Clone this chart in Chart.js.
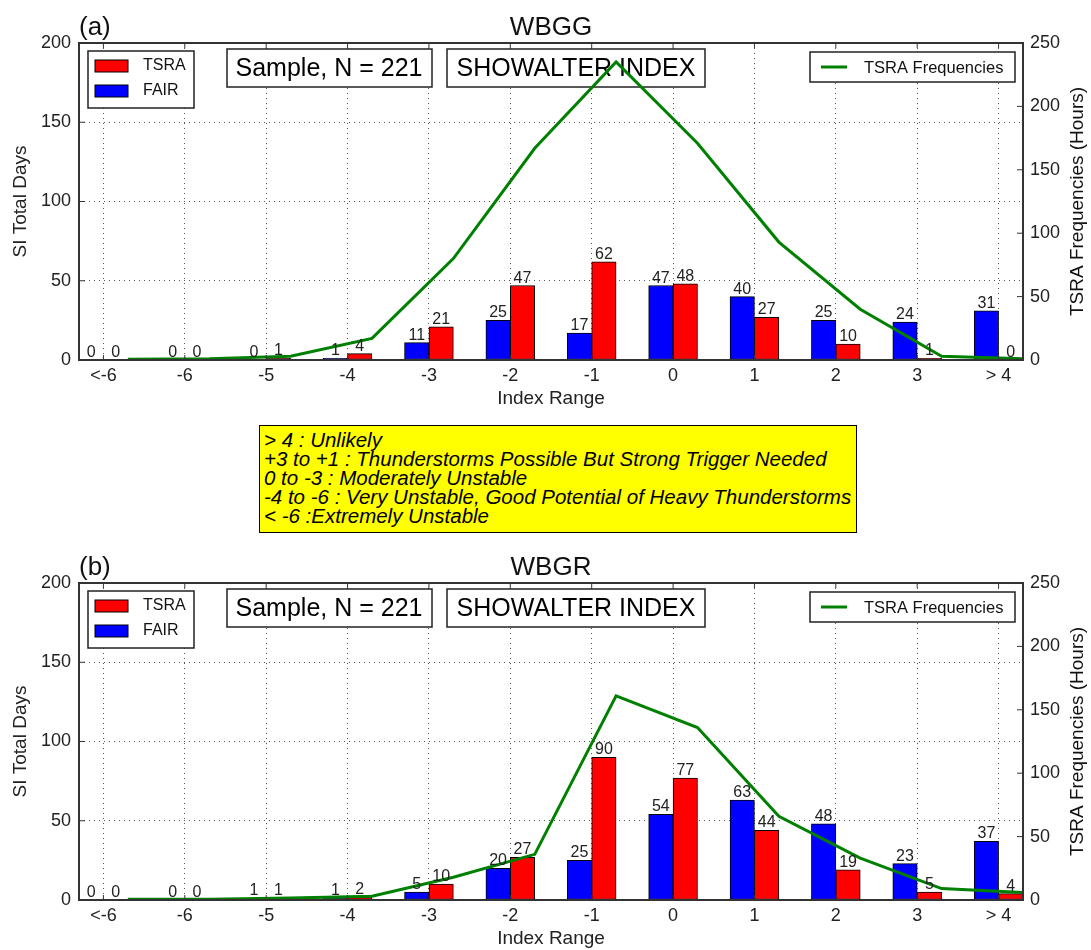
<!DOCTYPE html>
<html>
<head>
<meta charset="utf-8">
<script src="https://cdn.jsdelivr.net/npm/chart.js@4.4.1/dist/chart.umd.min.js"></script>
<style>
  html, body { margin: 0; padding: 0; background: #fff; overflow: hidden; }
  #page { position: relative; width: 1091px; height: 950px; }
  canvas { position: absolute; left: 0; }
  #panelA { top: 0; }
  #panelB { top: 540px; }
  #notes {
    position: absolute; left: 259px; top: 425px; width: 598px; height: 108px;
    box-sizing: border-box; border: 1px solid #000; background: #ffff00;
    padding: 4px 4px; font: italic 20.5px 'Liberation Sans', Arial, sans-serif;
    line-height: 19px; color: #000; white-space: nowrap;
  }
</style>
</head>
<body>
<div id="page">
  <canvas id="panelA" width="1091" height="410"></canvas>
  <div id="notes">
    &gt; 4 : Unlikely<br>
    +3 to +1 : Thunderstorms Possible But Strong Trigger Needed<br>
    0 to -3 : Moderately Unstable<br>
    -4 to -6 : Very Unstable, Good Potential of Heavy Thunderstorms<br>
    &lt; -6 :Extremely Unstable
  </div>
  <canvas id="panelB" width="1091" height="410"></canvas>
</div>
<script>
const categories = ['<-6', '-6', '-5', '-4', '-3', '-2', '-1', '0', '1', '2', '3', '> 4'];
const daysTicks = [0, 50, 100, 150, 200];
const hoursTicks = [0, 50, 100, 150, 200, 250];

// WBGG
const wbggFair = [0, 0, 0, 1, 11, 25, 17, 47, 40, 25, 24, 31];
const wbggTsra = [0, 0, 1, 4, 21, 47, 62, 48, 27, 10, 1, 0];
const wbggHours = [0.5, 1, 3, 17, 80, 167, 235, 171, 93, 40, 3, 1];

// WBGR
const wbgrFair = [0, 0, 1, 1, 5, 20, 25, 54, 63, 48, 23, 37];
const wbgrTsra = [0, 0, 1, 2, 10, 27, 90, 77, 44, 19, 5, 4];
const wbgrHours = [0.5, 0.5, 1.5, 3, 18, 36, 161, 136, 66, 33, 9, 6];

const sampleText = 'Sample, N = 221';
const indexText = 'SHOWALTER INDEX';

const FONT = "'Liberation Sans', Arial, sans-serif";
const BAR_W = 0.3; // bar width as a fraction of one index step

function drawBox(ctx, x, y, w, h) {
    ctx.save();
    ctx.fillStyle = '#fff';
    ctx.fillRect(x, y, w, h);
    ctx.strokeStyle = '#222';
    ctx.lineWidth = 1.5;
    ctx.strokeRect(x, y, w, h);
    ctx.restore();
}

// legends, text boxes, bar labels, frame and titles
const panelPlugin = {
    id: 'panel',
    beforeDatasetsDraw(chart) {
        const {ctx, chartArea: ca} = chart;
        const ds = chart.data.datasets;
        const bars = [ds[2], ds[1]]; // TSRA first, then FAIR
        const line = ds[0];

        // TSRA / FAIR legend
        drawBox(ctx, ca.left + 9, ca.top + 8, 106, 57);
        ctx.save();
        ctx.font = '16px ' + FONT;
        ctx.textBaseline = 'middle';
        bars.forEach((d, k) => {
            const y = ca.top + 23 + k * 25;
            ctx.fillStyle = d.backgroundColor;
            ctx.fillRect(ca.left + 16, y - 6, 33, 12);
            ctx.strokeStyle = '#000';
            ctx.lineWidth = 1;
            ctx.strokeRect(ca.left + 16, y - 6, 33, 12);
            ctx.fillStyle = '#111';
            ctx.fillText(d.label, ca.left + 64, y);
        });
        ctx.restore();

        // text boxes
        ctx.save();
        ctx.font = '25px ' + FONT;
        ctx.textAlign = 'center';
        ctx.textBaseline = 'middle';
        ctx.fillStyle = '#000';
        drawBox(ctx, ca.left + 148, ca.top + 6, 205, 38);
        ctx.fillText(sampleText, ca.left + 148 + 102, ca.top + 26);
        drawBox(ctx, ca.left + 368, ca.top + 6, 258, 38);
        ctx.fillText(indexText, ca.left + 368 + 129, ca.top + 26);
        ctx.restore();

        // line legend
        const lx = ca.right - 213;
        drawBox(ctx, lx, ca.top + 9, 205, 30);
        ctx.save();
        ctx.strokeStyle = line.borderColor;
        ctx.lineWidth = 3;
        ctx.beginPath();
        ctx.moveTo(lx + 11, ca.top + 24);
        ctx.lineTo(lx + 37, ca.top + 24);
        ctx.stroke();
        ctx.font = '16.5px ' + FONT;
        ctx.textBaseline = 'middle';
        ctx.fillStyle = '#111';
        ctx.fillText(line.label, lx + 54, ca.top + 25);
        ctx.restore();
    },
    afterDatasetsDraw(chart, args, opts) {
        const {ctx, chartArea: ca, scales} = chart;

        // values above the bars
        ctx.save();
        ctx.font = '16px ' + FONT;
        ctx.textAlign = 'center';
        ctx.textBaseline = 'alphabetic';
        ctx.fillStyle = '#222';
        chart.data.datasets.forEach((d, di) => {
            if (d.type === 'line') return;
            chart.getDatasetMeta(di).data.forEach((el, i) => {
                ctx.fillText(String(d.data[i].y), el.x, el.y - 3);
            });
        });
        ctx.restore();

        // frame with inward ticks
        ctx.save();
        ctx.strokeStyle = '#333';
        ctx.lineWidth = 2;
        ctx.strokeRect(ca.left, ca.top, ca.right - ca.left, ca.bottom - ca.top);
        ctx.lineWidth = 1;
        ctx.beginPath();
        categories.forEach((c, i) => {
            const x = scales.x.getPixelForValue(i);
            ctx.moveTo(x, ca.top); ctx.lineTo(x, ca.top + 5);
            ctx.moveTo(x, ca.bottom); ctx.lineTo(x, ca.bottom - 5);
        });
        daysTicks.forEach(v => {
            const y = scales.y.getPixelForValue(v);
            ctx.moveTo(ca.left, y); ctx.lineTo(ca.left + 6, y);
        });
        hoursTicks.forEach(v => {
            const y = scales.y2.getPixelForValue(v);
            ctx.moveTo(ca.right, y); ctx.lineTo(ca.right - 6, y);
        });
        ctx.stroke();
        ctx.restore();

        // panel tag, title and right axis title
        ctx.save();
        ctx.fillStyle = '#111';
        ctx.font = '26px ' + FONT;
        ctx.textBaseline = 'alphabetic';
        ctx.textAlign = 'left';
        ctx.fillText(opts.tag, ca.left, 35);
        ctx.textAlign = 'center';
        ctx.fillText(opts.title, (ca.left + ca.right) / 2, 35);
        ctx.translate(1078, (ca.top + ca.bottom) / 2);
        ctx.rotate(-Math.PI / 2);
        ctx.font = '19px ' + FONT;
        ctx.textBaseline = 'middle';
        ctx.fillText('TSRA Frequencies (Hours)', 0, 0);
        ctx.restore();
    }
};

function makePanel(canvasId, tag, title, fair, tsra, hours) {
    const tickFont = {family: FONT, size: 18};
    new Chart(document.getElementById(canvasId), {
        type: 'bar',
        data: {
            datasets: [
                {
                    type: 'line',
                    label: 'TSRA Frequencies',
                    data: hours.map((v, i) => ({x: i + BAR_W, y: v})),
                    yAxisID: 'y2',
                    borderColor: '#008000',
                    borderWidth: 3,
                    pointRadius: 0,
                    tension: 0,
                    order: 0
                },
                {
                    label: 'FAIR',
                    data: fair.map((v, i) => ({x: i - BAR_W / 2, y: v})),
                    backgroundColor: '#0000ff',
                    borderColor: '#000',
                    borderWidth: 1,
                    borderSkipped: false,
                    grouped: false,
                    barPercentage: 1,
                    categoryPercentage: 1,
                    order: 1
                },
                {
                    label: 'TSRA',
                    data: tsra.map((v, i) => ({x: i + BAR_W / 2, y: v})),
                    backgroundColor: '#ff0000',
                    borderColor: '#000',
                    borderWidth: 1,
                    borderSkipped: false,
                    grouped: false,
                    barPercentage: 1,
                    categoryPercentage: 1,
                    order: 1
                }
            ]
        },
        options: {
            responsive: false,
            animation: false,
            layout: {padding: {top: 43, left: 0, right: 0, bottom: 0}},
            plugins: {
                legend: {display: false},
                tooltip: {enabled: false},
                panel: {tag: tag, title: title}
            },
            scales: {
                x: {
                    type: 'linear',
                    offset: false,
                    min: -BAR_W,
                    max: categories.length - 1 + BAR_W,
                    afterBuildTicks: s => { s.ticks = categories.map((c, i) => ({value: i})); },
                    afterFit: s => { s.height = 50; },
                    ticks: {
                        callback: v => categories[v],
                        font: tickFont, color: '#222', padding: 5,
                        autoSkip: false, maxRotation: 0
                    },
                    grid: {color: '#555', lineWidth: 1, drawTicks: false, offset: false},
                    border: {display: false, dash: [1, 4]},
                    title: {display: true, text: 'Index Range', font: {family: FONT, size: 19}, color: '#222', padding: 0}
                },
                y: {
                    position: 'left',
                    min: 0,
                    max: 200,
                    afterBuildTicks: s => { s.ticks = daysTicks.map(v => ({value: v})); },
                    afterFit: s => { s.width = 79; },
                    ticks: {font: tickFont, color: '#222', padding: 8},
                    grid: {color: '#555', lineWidth: 1, drawTicks: false},
                    border: {display: false, dash: [1, 4]},
                    title: {display: true, text: 'SI Total Days', font: {family: FONT, size: 19}, color: '#222', padding: {top: 9}}
                },
                y2: {
                    position: 'right',
                    min: 0,
                    max: 250,
                    afterBuildTicks: s => { s.ticks = hoursTicks.map(v => ({value: v})); },
                    afterFit: s => { s.width = 68; },
                    ticks: {font: tickFont, color: '#222', padding: 7},
                    grid: {display: false, drawTicks: false},
                    border: {display: false}
                }
            }
        },
        plugins: [panelPlugin]
    });
}

makePanel('panelA', '(a)', 'WBGG', wbggFair, wbggTsra, wbggHours);
makePanel('panelB', '(b)', 'WBGR', wbgrFair, wbgrTsra, wbgrHours);
</script>
</body>
</html>
